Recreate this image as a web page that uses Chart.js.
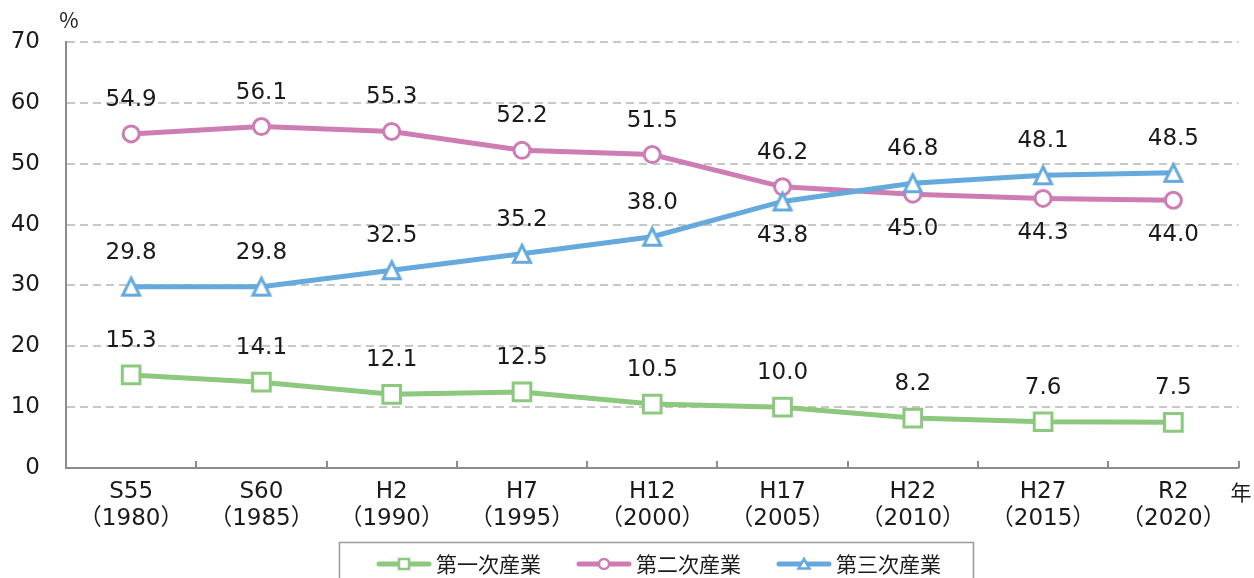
<!DOCTYPE html>
<html><head><meta charset="utf-8">
<script src="https://cdn.jsdelivr.net/npm/chart.js@4"></script>
<style>html,body{margin:0;padding:0;background:#fff}#wrap{width:1254px;height:578px;position:relative}</style>
</head><body><div id="wrap"><canvas id="c"></canvas></div>
<script>
const categories = [["S55","（1980）"],["S60","（1985）"],["H2","（1990）"],["H7","（1995）"],["H12","（2000）"],["H17","（2005）"],["H22","（2010）"],["H27","（2015）"],["R2","（2020）"]];
const seriesNames = ["第一次産業","第二次産業","第三次産業"];
const primary = [15.3,14.1,12.1,12.5,10.5,10.0,8.2,7.6,7.5];
const secondary = [54.9,56.1,55.3,52.2,51.5,46.2,45.0,44.3,44.0];
const tertiary = [29.8,29.8,32.5,35.2,38.0,43.8,46.8,48.1,48.5];
const yTickValues = [0,10,20,30,40,50,60,70];
const yUnit = "%";
const xUnit = "年";

const FONT = "'DejaVu Sans', 'Noto Sans CJK JP', sans-serif";
const CJK = "'Noto Sans CJK JP', 'DejaVu Sans', sans-serif";
const GREEN = '#8CC87D', PINK = '#CD7DB3', BLUE = '#65A9DD';
const TEXT = '#1a1a1a', AXIS = '#8c8c8c', GRID = '#c8c8c8';

function triangleImg(size, half, top, bottom, lw, color){
  const c = document.createElement('canvas');
  c.width = size; c.height = size;
  const g = c.getContext('2d');
  const cx = size/2;
  g.beginPath();
  g.moveTo(cx, top); g.lineTo(cx+half, bottom); g.lineTo(cx-half, bottom); g.closePath();
  g.fillStyle = '#fff'; g.fill();
  g.lineWidth = lw; g.strokeStyle = color; g.lineJoin = 'miter'; g.stroke();
  return c;
}
const triPoint = triangleImg(30, 8.5, 6.5, 23.5, 3, BLUE);

const legendPlugin = {
  id: 'boxLegend',
  afterDraw(chart){
    const ctx = chart.ctx;
    ctx.save();
    ctx.strokeStyle = '#9a9a9a'; ctx.lineWidth = 1.5;
    ctx.strokeRect(339.5, 542.5, 634, 60);
    ctx.font = '21px ' + CJK;
    ctx.textBaseline = 'middle'; ctx.textAlign = 'left'; ctx.fillStyle = TEXT;
    let x = 377; const y = 564;
    chart.data.datasets.forEach(ds => {
      ctx.strokeStyle = ds.borderColor; ctx.lineWidth = 5; ctx.lineCap = 'round';
      ctx.beginPath(); ctx.moveTo(x+2, y); ctx.lineTo(x+52, y); ctx.stroke();
      const cx = x + 27;
      ctx.fillStyle = '#fff'; ctx.lineWidth = 2.5; ctx.lineCap = 'butt';
      ctx.beginPath();
      if (ds.pointStyle === 'rect') { ctx.rect(cx-5, y-5, 10, 10); }
      else if (ds.pointStyle === 'circle') { ctx.arc(cx, y, 5, 0, Math.PI*2); }
      else { ctx.moveTo(cx, y-5); ctx.lineTo(cx+5.5, y+4.5); ctx.lineTo(cx-5.5, y+4.5); ctx.closePath(); }
      ctx.fill(); ctx.stroke();
      ctx.fillStyle = TEXT;
      ctx.fillText(ds.label, x + 59, y);
      x += 59 + ctx.measureText(ds.label).width + 36;
    });
    ctx.restore();
  }
};

const decorPlugin = {
  id: 'decor',
  afterDraw(chart){
    const ctx = chart.ctx, a = chart.chartArea;
    ctx.save();
    ctx.strokeStyle = AXIS; ctx.lineWidth = 2;
    const n = categories.length, w = (a.right - a.left)/n;
    for (let i = 1; i <= n; i++) {
      const x = Math.round(a.left + i*w);
      ctx.beginPath(); ctx.moveTo(x, a.bottom - 7); ctx.lineTo(x, a.bottom); ctx.stroke();
    }
    ctx.fillStyle = TEXT; ctx.textAlign = 'center'; ctx.textBaseline = 'middle';
    ctx.font = '21px ' + CJK;
    ctx.fillText(yUnit, 69, 20);
    ctx.fillText(xUnit, 1241, 492);
    ctx.restore();
  }
};

const labelPlugin = {
  id: 'valueLabels',
  afterDatasetsDraw(chart){
    const ctx = chart.ctx;
    ctx.save();
    ctx.font = '23px ' + FONT; ctx.fillStyle = TEXT;
    ctx.textAlign = 'center'; ctx.textBaseline = 'middle';
    chart.data.datasets.forEach((ds, di) => {
      const meta = chart.getDatasetMeta(di);
      meta.data.forEach((pt, i) => {
        const v = ds.data[i];
        let below = false;
        if (ds.rival !== undefined) {
          const o = chart.data.datasets[ds.rival].data[i];
          below = o > v && (o - v) < 8;
        }
        ctx.fillText(v.toFixed(1), pt.x, pt.y + (below ? 35 : -34));
      });
    });
    ctx.restore();
  }
};

new Chart(document.getElementById('c'), {
  type: 'line',
  data: {
    labels: categories,
    datasets: [
      { label: seriesNames[0], data: primary, borderColor: GREEN, backgroundColor: '#fff', borderWidth: 5,
        pointStyle: 'rect', pointRadius: 12.5, pointBorderWidth: 3, pointBackgroundColor: '#fff', pointBorderColor: GREEN, order: 2 },
      { label: seriesNames[1], data: secondary, borderColor: PINK, backgroundColor: '#fff', borderWidth: 5,
        pointStyle: 'circle', pointRadius: 8, pointBorderWidth: 3, pointBackgroundColor: '#fff', pointBorderColor: PINK, order: 1, rival: 2 },
      { label: seriesNames[2], data: tertiary, borderColor: BLUE, backgroundColor: '#fff', borderWidth: 5,
        pointStyle: triPoint, pointRadius: 10, pointBorderWidth: 3, pointBackgroundColor: '#fff', pointBorderColor: BLUE, order: 0, rival: 1 }
    ]
  },
  options: {
    responsive: true, maintainAspectRatio: false, animation: false,
    devicePixelRatio: 1,
    layout: { padding: { top: 42, right: 8, left: 0, bottom: 0 } },
    plugins: { legend: { display: false }, tooltip: { enabled: false } },
    scales: {
      x: {
        offset: true,
        grid: { display: false, drawTicks: false },
        border: { display: true, color: AXIS, width: 2 },
        ticks: { color: TEXT, padding: 10, maxRotation: 0, autoSkip: false,
          font: { family: FONT, size: 23, lineHeight: 1.2 } },
        afterFit(s){ s.height = 110; }
      },
      y: {
        min: yTickValues[0], max: yTickValues[yTickValues.length-1],
        afterBuildTicks(s){ s.ticks = yTickValues.map(v => ({ value: v })); },
        grid: { drawTicks: false, lineWidth: 2,
          color: c => (c.tick && c.tick.value === 0) ? 'rgba(0,0,0,0)' : GRID },
        border: { display: true, color: AXIS, width: 2, dash: [8, 5] },
        ticks: { color: TEXT, padding: 26, font: { family: FONT, size: 23 } },
        afterFit(s){ s.width = 66; }
      }
    }
  },
  plugins: [decorPlugin, labelPlugin, legendPlugin]
});
</script></body></html>
